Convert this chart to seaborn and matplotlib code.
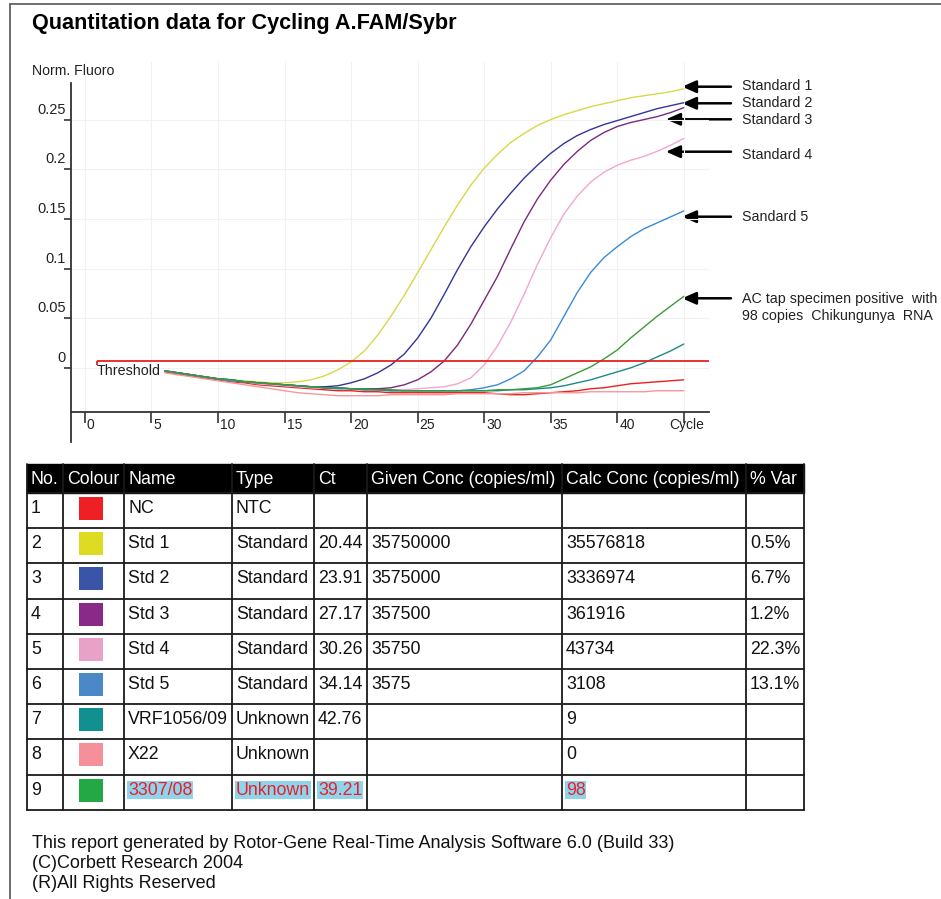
import numpy as np
import pandas as pd
import seaborn as sns
import matplotlib.pyplot as plt
from matplotlib.transforms import offset_copy
from matplotlib.patches import Rectangle

# amplification curves, normalised fluorescence per cycle
cycles = list(range(6, 46))
nc = [-0.004, -0.006, -0.008, -0.010, -0.012, -0.014, -0.015, -0.017, -0.018, -0.019,
      -0.020, -0.021, -0.022, -0.023, -0.023, -0.024, -0.024, -0.025, -0.025, -0.025,
      -0.025, -0.025, -0.025, -0.025, -0.025, -0.026, -0.027, -0.027, -0.026, -0.025,
      -0.024, -0.023, -0.021, -0.020, -0.018, -0.016, -0.015, -0.014, -0.013, -0.012]
std1 = [-0.003, -0.005, -0.007, -0.009, -0.011, -0.012, -0.013, -0.014, -0.015, -0.015,
        -0.014, -0.012, -0.008, -0.002, 0.006, 0.017, 0.033, 0.052, 0.073, 0.096,
        0.119, 0.142, 0.164, 0.184, 0.201, 0.215, 0.227, 0.236, 0.244, 0.250,
        0.255, 0.259, 0.263, 0.266, 0.269, 0.272, 0.274, 0.276, 0.278, 0.281]
std2 = [-0.003, -0.005, -0.007, -0.009, -0.011, -0.012, -0.014, -0.015, -0.016, -0.017,
        -0.018, -0.019, -0.019, -0.018, -0.015, -0.011, -0.005, 0.003, 0.014, 0.030,
        0.050, 0.074, 0.099, 0.122, 0.142, 0.160, 0.176, 0.191, 0.204, 0.216,
        0.226, 0.234, 0.240, 0.245, 0.249, 0.253, 0.257, 0.261, 0.264, 0.267]
std3 = [-0.003, -0.005, -0.007, -0.009, -0.011, -0.013, -0.014, -0.015, -0.016, -0.017,
        -0.018, -0.019, -0.020, -0.020, -0.021, -0.021, -0.021, -0.020, -0.017, -0.012,
        -0.004, 0.007, 0.023, 0.044, 0.068, 0.092, 0.120, 0.147, 0.170, 0.189,
        0.205, 0.218, 0.229, 0.237, 0.243, 0.247, 0.250, 0.253, 0.257, 0.262]
std4 = [-0.003, -0.005, -0.007, -0.009, -0.011, -0.013, -0.014, -0.016, -0.017, -0.018,
        -0.019, -0.020, -0.020, -0.021, -0.021, -0.022, -0.022, -0.022, -0.022, -0.021,
        -0.020, -0.019, -0.016, -0.010, 0.003, 0.022, 0.046, 0.074, 0.104, 0.131,
        0.155, 0.173, 0.187, 0.197, 0.204, 0.209, 0.213, 0.218, 0.224, 0.231]
std5 = [-0.003, -0.005, -0.007, -0.009, -0.011, -0.013, -0.014, -0.015, -0.016, -0.017,
        -0.018, -0.019, -0.020, -0.021, -0.021, -0.022, -0.022, -0.023, -0.023, -0.023,
        -0.023, -0.023, -0.023, -0.022, -0.020, -0.017, -0.011, -0.003, 0.011, 0.028,
        0.052, 0.076, 0.096, 0.111, 0.122, 0.132, 0.140, 0.146, 0.152, 0.158]
vrf = [-0.003, -0.005, -0.007, -0.009, -0.011, -0.012, -0.014, -0.015, -0.016, -0.017,
       -0.018, -0.019, -0.020, -0.020, -0.021, -0.022, -0.022, -0.023, -0.023, -0.023,
       -0.023, -0.023, -0.023, -0.023, -0.023, -0.023, -0.022, -0.022, -0.021, -0.020,
       -0.018, -0.015, -0.012, -0.008, -0.004, 0.000, 0.005, 0.011, 0.017, 0.024]
x22 = [-0.005, -0.007, -0.009, -0.011, -0.013, -0.015, -0.017, -0.019, -0.021, -0.023,
       -0.025, -0.026, -0.027, -0.028, -0.028, -0.028, -0.028, -0.027, -0.027, -0.027,
       -0.027, -0.027, -0.026, -0.026, -0.026, -0.026, -0.026, -0.025, -0.025, -0.025,
       -0.025, -0.025, -0.024, -0.024, -0.024, -0.024, -0.024, -0.023, -0.023, -0.023]
s3307 = [-0.003, -0.005, -0.007, -0.009, -0.011, -0.012, -0.014, -0.015, -0.016, -0.017,
         -0.018, -0.019, -0.020, -0.020, -0.021, -0.021, -0.022, -0.022, -0.023, -0.023,
         -0.023, -0.023, -0.023, -0.023, -0.023, -0.022, -0.022, -0.021, -0.020, -0.017,
         -0.011, -0.005, 0.001, 0.009, 0.018, 0.030, 0.041, 0.052, 0.062, 0.072]
threshold = 0.007

# results table
sample_no = ['1', '2', '3', '4', '5', '6', '7', '8', '9']
sample_names = ['NC', 'Std 1', 'Std 2', 'Std 3', 'Std 4', 'Std 5', 'VRF1056/09', 'X22', '3307/08']
sample_types = ['NTC', 'Standard', 'Standard', 'Standard', 'Standard', 'Standard',
                'Unknown', 'Unknown', 'Unknown']
ct_values = ['', '20.44', '23.91', '27.17', '30.26', '34.14', '42.76', '', '39.21']
given_conc = ['', '35750000', '3575000', '357500', '35750', '3575', '', '', '']
calc_conc = ['', '35576818', '3336974', '361916', '43734', '3108', '9', '0', '98']
pct_var = ['', '0.5%', '6.7%', '1.2%', '22.3%', '13.1%', '', '', '']
headers = ['No.', 'Colour', 'Name', 'Type', 'Ct', 'Given Conc (copies/ml)',
           'Calc Conc (copies/ml)', '% Var']
swatch_colours = ['#ee2024', '#dedc22', '#3a55a8', '#8a2a88', '#e8a2c8',
                  '#4a88c8', '#12908f', '#f5909a', '#22a845']
line_colours = ['#e82020', '#d8d848', '#34349a', '#7a2a7a', '#f2a6d0',
                '#3a8ad8', '#1a8a8a', '#f59898', '#3a9a3a']

arrow_labels = ['Standard 1', 'Standard 2', 'Standard 3', 'Standard 4', 'Sandard 5',
                'AC tap specimen positive  with\n98 copies  Chikungunya  RNA']
yticks = [0, 0.05, 0.1, 0.15, 0.2, 0.25]
ytick_labels = ['0', '0.05', '0.1', '0.15', '0.2', '0.25']
xticks = [0, 5, 10, 15, 20, 25, 30, 35, 40, 45]
xtick_labels = ['0', '5', '10', '15', '20', '25', '30', '35', '40', 'Cycle']

series = [nc, std1, std2, std3, std4, std5, vrf, x22, s3307]
rows = [(c, v, name) for name, vals in zip(sample_names, series) for c, v in zip(cycles, vals)]
df = pd.DataFrame(rows, columns=['Cycle', 'Fluoro', 'Sample'])

sns.set_style('white')
plt.rcParams['font.family'] = ['Liberation Sans', 'DejaVu Sans']

W, H = 941, 899
fig = plt.figure(figsize=(W / 100, H / 100), dpi=100)

# page overlay in pixel coordinates
page = fig.add_axes([0, 0, 1, 1], zorder=0)
page.set_xlim(0, W)
page.set_ylim(H, 0)
page.axis('off')
page.patch.set_alpha(0)

# plot
ax = fig.add_axes([71 / W, (H - 412) / H, (709 - 71) / W, (412 - 62) / H], zorder=1)
ax.patch.set_alpha(0)
sns.lineplot(data=df, x='Cycle', y='Fluoro', hue='Sample', hue_order=sample_names,
             palette=line_colours, linewidth=1.0, legend=False, ax=ax)
ax.set_xlim(-1.05, 46.9)
ax.set_ylim(-0.0444, 0.308)
ax.set_xlabel('')
ax.set_ylabel('')
ax.set_xticks(xticks)
ax.set_yticks(yticks)
ax.grid(True, color='#f1f1f1', lw=0.8)
ax.set_axisbelow(True)
for s in ['top', 'right']:
    ax.spines[s].set_visible(False)
for s in ['left', 'bottom']:
    ax.spines[s].set_color('#333333')
    ax.spines[s].set_linewidth(1.3)
ax.spines['left'].set_bounds(-0.075, 0.287)
ax.tick_params(axis='x', direction='out', length=8, width=1.2, color='#333333',
               labelbottom=False, bottom=True)
ax.tick_params(axis='y', direction='out', length=5, width=1.2, color='#333333',
               labelleft=False, left=True)

ytr = offset_copy(ax.transData, fig=fig, x=-5, y=6, units='dots')
for v, lab in zip(yticks, ytick_labels):
    ax.text(-1.05, v, lab, transform=ytr, ha='right', va='baseline', fontsize=10.5, color='#222222')
xtr = offset_copy(ax.transData, fig=fig, x=2, y=-6, units='dots')
for v, lab in zip(xticks[:-1], xtick_labels[:-1]):
    ax.text(v, -0.0444, lab, transform=xtr, ha='left', va='top', fontsize=10, color='#222222')
ctr = offset_copy(ax.transData, fig=fig, x=3, y=-6, units='dots')
ax.text(xticks[-1], -0.0444, xtick_labels[-1], transform=ctr, ha='center', va='top',
        fontsize=10, color='#222222')

ax.hlines(threshold, 0.9, 46.9, colors='#e82020', lw=1.3, zorder=5)
ax.vlines(0.9, threshold - 0.004, threshold, colors='#e82020', lw=1.3, zorder=5)
ttr = offset_copy(ax.transData, fig=fig, x=0, y=-3, units='dots')
ax.text(0.9, threshold, 'Threshold', transform=ttr, ha='left', va='top', fontsize=10.3,
        color='#222222')

page.text(32, 71, 'Norm. Fluoro', ha='left', va='center', fontsize=10.2, color='#222222')
page.text(32, 24, 'Quantitation data for Cycling A.FAM/Sybr', ha='left', va='center',
          fontsize=15.6, fontweight='bold', color='black')

# arrows and labels
arrow_tips = [(682, 86.7), (682, 103.3), (666, 119.3), (666, 151.7), (682, 216.7), (682, 298.3)]
label_y = [86, 103, 120, 155, 217, 300]
for lab, (tx, ty), ly in zip(arrow_labels, arrow_tips, label_y):
    page.annotate('', xy=(tx, ty), xytext=(731, ty),
                  arrowprops=dict(arrowstyle='-|>,head_length=0.5,head_width=0.22',
                                  mutation_scale=17, color='black', lw=1.8,
                                  shrinkA=0, shrinkB=0))
    page.text(742, ly, lab, ha='left', va='top' if '\n' in lab else 'center',
              fontsize=10.3, color='#222222', linespacing=1.25,
              transform=offset_copy(page.transData, fig=fig, x=0, y=8 if '\n' in lab else 0,
                                    units='dots'))

# table
col_x = [27, 63, 124, 232, 314, 367, 562, 746, 804]
head_top, head_bot = 464, 493
row_h = 35.2
n_rows = len(sample_names)
tbl_bot = head_bot + row_h * n_rows
page.add_patch(Rectangle((col_x[0], head_top), col_x[-1] - col_x[0], head_bot - head_top,
                         facecolor='black', edgecolor='black', lw=1))
for x, h in zip(col_x, headers + ['']):
    if h:
        page.text(x + 4, 479, h, ha='left', va='center', fontsize=12.8, color='white')
for x in col_x:
    page.plot([x, x], [head_top, tbl_bot], color='#1a1a1a', lw=1.3)
for i in range(n_rows + 1):
    y = head_bot + row_h * i
    page.plot([col_x[0], col_x[-1]], [y, y], color='#1a1a1a', lw=1.3)

for i in range(n_rows):
    top = head_bot + row_h * i
    yc = top + 15.5
    highlight = sample_names[i] == '3307/08'
    cells = [sample_no[i], None, sample_names[i], sample_types[i], ct_values[i],
             given_conc[i], calc_conc[i], pct_var[i]]
    for j, val in enumerate(cells):
        if j == 1:
            page.add_patch(Rectangle((79, top + 4), 24, 23, facecolor=swatch_colours[i],
                                     edgecolor='none'))
            continue
        if not val:
            continue
        if highlight and j in (2, 3, 4, 6):
            page.text(col_x[j] + 4, yc, val, ha='left', va='center', fontsize=12.8,
                      color='#e8202a',
                      bbox=dict(facecolor='#90d4ec', edgecolor='none', pad=0.5))
        else:
            page.text(col_x[j] + 4, yc, val, ha='left', va='center', fontsize=12.8,
                      color='#111111')

footer = ['This report generated by Rotor-Gene Real-Time Analysis Software 6.0 (Build 33)',
          '(C)Corbett Research 2004', '(R)All Rights Reserved']
for k, line in enumerate(footer):
    page.text(32, 843 + 20.5 * k, line, ha='left', va='center', fontsize=13, color='#111111')

# page frame
page.plot([10, 10], [4, H], color='#555555', lw=1.2)
page.plot([10, W], [4, 4], color='#555555', lw=1.2)

fig.savefig('out.png', dpi=100)
